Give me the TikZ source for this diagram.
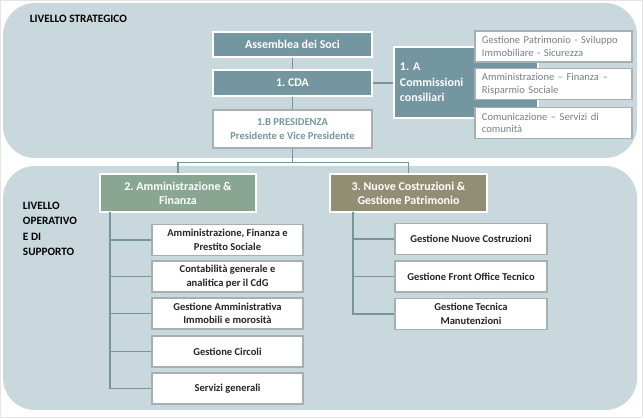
\documentclass[tikz,border=0pt]{standalone}
\usepackage{fontspec}
\setmainfont{Carlito}
\frenchspacing
\definecolor{pannello}{RGB}{201,216,221}
\definecolor{boxscuro}{RGB}{116,150,160}
\definecolor{boxverde}{RGB}{136,166,146}
\definecolor{boxoliva}{RGB}{146,142,116}
\definecolor{linea}{RGB}{118,148,158}
\definecolor{bordo}{RGB}{165,175,180}
\definecolor{testogrigio}{RGB}{118,128,133}

\begin{document}
\begin{tikzpicture}[x=0.025cm,y=-0.025cm,
    scuro/.style={draw=white,line width=1.2pt,fill=boxscuro,text=white,
      font=\bfseries\fontsize{8.5}{10}\selectfont,inner sep=0pt,align=center},
    bianco/.style={draw=bordo,line width=1pt,fill=white,text=black!85,
      font=\bfseries\fontsize{7.5}{9.5}\selectfont,inner sep=0pt,align=center},
    commissione/.style={draw=bordo,line width=1pt,fill=white,text=testogrigio,
      font=\fontsize{7.5}{9}\selectfont,text width=3.575cm,inner xsep=0.175cm,
      align=left,minimum height=0.775cm},
    ufficio/.style={bianco,minimum width=3.775cm,minimum height=0.775cm},
    connettore/.style={draw=linea,line width=1pt},
    livello/.style={font=\bfseries\fontsize{8}{11}\selectfont,align=left}]
      \useasboundingbox (0,0) rectangle (643,418) ;
      \draw[gray!20] (0,0) rectangle (642,417) ;
      % pannelli
      \fill[pannello,rounded corners=0.8cm] (3,3) rectangle (637,158) ;
      \fill[pannello,rounded corners=0.8cm] (3,166) rectangle (637,410) ;
      \node[livello,anchor=west] (strat) at (25,19) {LIVELLO STRATEGICO} ;
      \node[livello,anchor=north west] (oper) at (18,197) %
        {LIVELLO\\OPERATIVO\\E DI\\SUPPORTO} ;
      % livello strategico
      \node[scuro,minimum width=3.975cm,minimum height=0.625cm] %
        (asm) at (292.5,44.5) {Assemblea dei Soci} ;
      \node[scuro,minimum width=3.975cm,minimum height=0.65cm] %
        (cda) at (292.5,83) {1. CDA} ;
      \node[bianco,text=boxscuro,minimum width=3.975cm,minimum height=0.95cm] %
        (pres) at (292.5,129) {1.B PRESIDENZA\\Presidente e Vice Presidente} ;
      \node[scuro,align=left,text width=3.3cm,inner xsep=0.15cm,
        minimum height=1.775cm,font=\bfseries\fontsize{8.5}{11}\selectfont] %
        (comm) at (466,82.5) {1. A\\Commissioni\\consiliari\\[-0.4em]} ;
      \node[commissione] (c1) at (553.5,46.5) %
        {Gestione Patrimonio - Sviluppo\\Immobiliare - Sicurezza} ;
      \node[commissione] (c2) at (553.5,84) %
        {Amministrazione -- Finanza --\\Risparmio Sociale} ;
      \node[commissione] (c3) at (553.5,123) %
        {Comunicazione -- Servizi di\\comunità} ;
      \draw[connettore] (asm) -- (cda) ;
      \draw[connettore] (cda) -- (pres) ;
      \draw[connettore] (cda.east) -- (comm.west |- cda.east) ;
      % livello operativo
      \node[scuro,fill=boxverde,minimum width=3.9cm,minimum height=0.95cm] %
        (amm) at (178,193) {2. Amministrazione \&\\Finanza} ;
      \node[scuro,fill=boxoliva,minimum width=3.925cm,minimum height=0.95cm] %
        (nuove) at (408.5,193) {3. Nuove Costruzioni \&\\Gestione Patrimonio} ;
      \draw[connettore] (pres.south) -- ++(0,14) -| (amm.north) ;
      \draw[connettore] (pres.south) -- ++(0,14) -| (nuove.north) ;
      \node[ufficio] (a1) at (227.5,240) {Amministrazione, Finanza e\\Prestito Sociale} ;
      \node[ufficio] (a2) at (227.5,276.5) {Contabilità generale e\\analitica per il CdG} ;
      \node[ufficio] (a3) at (227.5,313.5) {Gestione Amministrativa\\Immobili e morosità} ;
      \node[ufficio] (a4) at (227.5,351.5) {Gestione Circoli} ;
      \node[ufficio] (a5) at (227.5,388.5) {Servizi generali} ;
      \node[ufficio,minimum width=3.8cm] (n1) at (471,239) {Gestione Nuove Costruzioni} ;
      \node[ufficio,minimum width=3.8cm] (n2) at (471,276.5) {Gestione Front Office Tecnico} ;
      \node[ufficio,minimum width=3.8cm] (n3) at (471,314) {Gestione Tecnica\\Manutenzioni} ;
      \coordinate (sx) at (110,212) ;
      \coordinate (dx) at (353,212) ;
      \foreach \u in {a1,a2,a3,a4,a5}
        \draw[connettore] (sx) |- (\u.west) ;
      \foreach \u in {n1,n2,n3}
        \draw[connettore] (dx) |- (\u.west) ;
    \end{tikzpicture}
\end{document}
